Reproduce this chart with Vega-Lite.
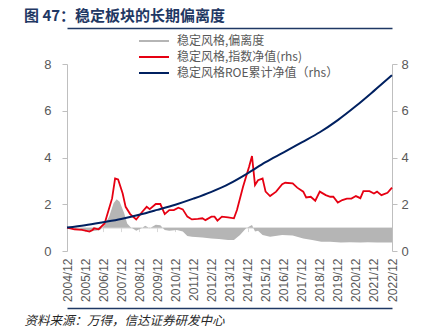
{
  "$schema": "https://vega.github.io/schema/vega-lite/v6.json",
  "width": 325,
  "height": 187,
  "autosize": {"type": "none"},
  "padding": {"left": 67, "top": 64, "right": 44, "bottom": 84},
  "background": "white",
  "title": {"text": "图 47：稳定板块的长期偏离度", "anchor": "start", "frame": "group", "dx": -43, "offset": 4, "font": "Noto Sans CJK SC", "fontSize": 15, "fontWeight": "bold", "color": "#1f3864"},
  "config": {"view": {"stroke": null}, "axis": {"grid": false}},
  "data": {"values": [
    {"date": "2004-12", "value": 1.00, "series": "稳定风格,偏离度"},
    {"date": "2005-08", "value": 0.97, "series": "稳定风格,偏离度"},
    {"date": "2006-03", "value": 0.83, "series": "稳定风格,偏离度"},
    {"date": "2006-07", "value": 0.87, "series": "稳定风格,偏离度"},
    {"date": "2006-10", "value": 0.90, "series": "稳定风格,偏离度"},
    {"date": "2007-01", "value": 1.11, "series": "稳定风格,偏离度"},
    {"date": "2007-04", "value": 1.47, "series": "稳定风格,偏离度"},
    {"date": "2007-07", "value": 2.04, "series": "稳定风格,偏离度"},
    {"date": "2007-09", "value": 2.21, "series": "稳定风格,偏离度"},
    {"date": "2007-11", "value": 2.11, "series": "稳定风格,偏离度"},
    {"date": "2008-02", "value": 1.61, "series": "稳定风格,偏离度"},
    {"date": "2008-04", "value": 1.18, "series": "稳定风格,偏离度"},
    {"date": "2008-06", "value": 1.04, "series": "稳定风格,偏离度"},
    {"date": "2008-10", "value": 0.87, "series": "稳定风格,偏离度"},
    {"date": "2009-02", "value": 1.00, "series": "稳定风格,偏离度"},
    {"date": "2009-04", "value": 1.08, "series": "稳定风格,偏离度"},
    {"date": "2009-07", "value": 0.97, "series": "稳定风格,偏离度"},
    {"date": "2009-11", "value": 1.12, "series": "稳定风格,偏离度"},
    {"date": "2010-02", "value": 1.10, "series": "稳定风格,偏离度"},
    {"date": "2010-05", "value": 0.90, "series": "稳定风格,偏离度"},
    {"date": "2010-08", "value": 0.87, "series": "稳定风格,偏离度"},
    {"date": "2011-01", "value": 0.90, "series": "稳定风格,偏离度"},
    {"date": "2011-05", "value": 0.83, "series": "稳定风格,偏离度"},
    {"date": "2011-08", "value": 0.64, "series": "稳定风格,偏离度"},
    {"date": "2011-11", "value": 0.61, "series": "稳定风格,偏离度"},
    {"date": "2012-06", "value": 0.58, "series": "稳定风格,偏离度"},
    {"date": "2012-12", "value": 0.54, "series": "稳定风格,偏离度"},
    {"date": "2013-05", "value": 0.51, "series": "稳定风格,偏离度"},
    {"date": "2013-11", "value": 0.47, "series": "稳定风格,偏离度"},
    {"date": "2014-03", "value": 0.47, "series": "稳定风格,偏离度"},
    {"date": "2014-07", "value": 0.68, "series": "稳定风格,偏离度"},
    {"date": "2014-11", "value": 0.97, "series": "稳定风格,偏离度"},
    {"date": "2015-03", "value": 1.11, "series": "稳定风格,偏离度"},
    {"date": "2015-05", "value": 0.83, "series": "稳定风格,偏离度"},
    {"date": "2015-07", "value": 0.87, "series": "稳定风格,偏离度"},
    {"date": "2015-10", "value": 0.68, "series": "稳定风格,偏离度"},
    {"date": "2016-03", "value": 0.61, "series": "稳定风格,偏离度"},
    {"date": "2016-11", "value": 0.68, "series": "稳定风格,偏离度"},
    {"date": "2017-06", "value": 0.66, "series": "稳定风格,偏离度"},
    {"date": "2018-01", "value": 0.54, "series": "稳定风格,偏离度"},
    {"date": "2018-07", "value": 0.47, "series": "稳定风格,偏离度"},
    {"date": "2019-01", "value": 0.40, "series": "稳定风格,偏离度"},
    {"date": "2019-07", "value": 0.40, "series": "稳定风格,偏离度"},
    {"date": "2020-02", "value": 0.36, "series": "稳定风格,偏离度"},
    {"date": "2020-08", "value": 0.37, "series": "稳定风格,偏离度"},
    {"date": "2021-03", "value": 0.36, "series": "稳定风格,偏离度"},
    {"date": "2021-08", "value": 0.37, "series": "稳定风格,偏离度"},
    {"date": "2022-02", "value": 0.36, "series": "稳定风格,偏离度"},
    {"date": "2022-12", "value": 0.36, "series": "稳定风格,偏离度"},

    {"date": "2004-12", "value": 1.00, "series": "稳定风格,指数净值(rhs)"},
    {"date": "2005-05", "value": 0.93, "series": "稳定风格,指数净值(rhs)"},
    {"date": "2005-10", "value": 0.90, "series": "稳定风格,指数净值(rhs)"},
    {"date": "2006-03", "value": 0.83, "series": "稳定风格,指数净值(rhs)"},
    {"date": "2006-05", "value": 0.90, "series": "稳定风格,指数净值(rhs)"},
    {"date": "2006-06", "value": 0.97, "series": "稳定风格,指数净值(rhs)"},
    {"date": "2006-09", "value": 0.93, "series": "稳定风格,指数净值(rhs)"},
    {"date": "2007-01", "value": 1.18, "series": "稳定风格,指数净值(rhs)"},
    {"date": "2007-04", "value": 1.82, "series": "稳定风格,指数净值(rhs)"},
    {"date": "2007-06", "value": 2.25, "series": "稳定风格,指数净值(rhs)"},
    {"date": "2007-08", "value": 3.10, "series": "稳定风格,指数净值(rhs)"},
    {"date": "2007-10", "value": 3.06, "series": "稳定风格,指数净值(rhs)"},
    {"date": "2008-01", "value": 2.46, "series": "稳定风格,指数净值(rhs)"},
    {"date": "2008-03", "value": 1.89, "series": "稳定风格,指数净值(rhs)"},
    {"date": "2008-06", "value": 1.58, "series": "稳定风格,指数净值(rhs)"},
    {"date": "2008-10", "value": 1.35, "series": "稳定风格,指数净值(rhs)"},
    {"date": "2009-02", "value": 1.68, "series": "稳定风格,指数净值(rhs)"},
    {"date": "2009-05", "value": 1.89, "series": "稳定风格,指数净值(rhs)"},
    {"date": "2009-07", "value": 1.79, "series": "稳定风格,指数净值(rhs)"},
    {"date": "2009-11", "value": 2.01, "series": "稳定风格,指数净值(rhs)"},
    {"date": "2010-02", "value": 2.01, "series": "稳定风格,指数净值(rhs)"},
    {"date": "2010-05", "value": 1.58, "series": "稳定风格,指数净值(rhs)"},
    {"date": "2010-08", "value": 1.75, "series": "稳定风格,指数净值(rhs)"},
    {"date": "2010-11", "value": 1.75, "series": "稳定风格,指数净值(rhs)"},
    {"date": "2011-02", "value": 1.85, "series": "稳定风格,指数净值(rhs)"},
    {"date": "2011-05", "value": 1.78, "series": "稳定风格,指数净值(rhs)"},
    {"date": "2011-08", "value": 1.47, "series": "稳定风格,指数净值(rhs)"},
    {"date": "2011-11", "value": 1.35, "series": "稳定风格,指数净值(rhs)"},
    {"date": "2012-03", "value": 1.37, "series": "稳定风格,指数净值(rhs)"},
    {"date": "2012-06", "value": 1.40, "series": "稳定风格,指数净值(rhs)"},
    {"date": "2012-08", "value": 1.32, "series": "稳定风格,指数净值(rhs)"},
    {"date": "2012-12", "value": 1.47, "series": "稳定风格,指数净值(rhs)"},
    {"date": "2013-02", "value": 1.47, "series": "稳定风格,指数净值(rhs)"},
    {"date": "2013-04", "value": 1.30, "series": "稳定风格,指数净值(rhs)"},
    {"date": "2013-07", "value": 1.47, "series": "稳定风格,指数净值(rhs)"},
    {"date": "2013-11", "value": 1.44, "series": "稳定风格,指数净值(rhs)"},
    {"date": "2014-03", "value": 1.40, "series": "稳定风格,指数净值(rhs)"},
    {"date": "2014-05", "value": 1.75, "series": "稳定风格,指数净值(rhs)"},
    {"date": "2014-09", "value": 2.75, "series": "稳定风格,指数净值(rhs)"},
    {"date": "2014-11", "value": 3.18, "series": "稳定风格,指数净值(rhs)"},
    {"date": "2015-01", "value": 3.60, "series": "稳定风格,指数净值(rhs)"},
    {"date": "2015-03", "value": 4.06, "series": "稳定风格,指数净值(rhs)"},
    {"date": "2015-05", "value": 2.82, "series": "稳定风格,指数净值(rhs)"},
    {"date": "2015-07", "value": 3.03, "series": "稳定风格,指数净值(rhs)"},
    {"date": "2015-10", "value": 3.10, "series": "稳定风格,指数净值(rhs)"},
    {"date": "2015-12", "value": 2.54, "series": "稳定风格,指数净值(rhs)"},
    {"date": "2016-03", "value": 2.35, "series": "稳定风格,指数净值(rhs)"},
    {"date": "2016-07", "value": 2.54, "series": "稳定风格,指数净值(rhs)"},
    {"date": "2016-11", "value": 2.86, "series": "稳定风格,指数净值(rhs)"},
    {"date": "2017-01", "value": 2.92, "series": "稳定风格,指数净值(rhs)"},
    {"date": "2017-06", "value": 2.89, "series": "稳定风格,指数净值(rhs)"},
    {"date": "2017-09", "value": 2.71, "series": "稳定风格,指数净值(rhs)"},
    {"date": "2018-01", "value": 2.54, "series": "稳定风格,指数净值(rhs)"},
    {"date": "2018-03", "value": 2.29, "series": "稳定风格,指数净值(rhs)"},
    {"date": "2018-06", "value": 2.32, "series": "稳定风格,指数净值(rhs)"},
    {"date": "2018-09", "value": 2.15, "series": "稳定风格,指数净值(rhs)"},
    {"date": "2018-12", "value": 2.54, "series": "稳定风格,指数净值(rhs)"},
    {"date": "2019-04", "value": 2.39, "series": "稳定风格,指数净值(rhs)"},
    {"date": "2019-07", "value": 2.32, "series": "稳定风格,指数净值(rhs)"},
    {"date": "2019-09", "value": 2.32, "series": "稳定风格,指数净值(rhs)"},
    {"date": "2019-12", "value": 2.07, "series": "稳定风格,指数净值(rhs)"},
    {"date": "2020-03", "value": 2.18, "series": "稳定风格,指数净值(rhs)"},
    {"date": "2020-06", "value": 2.24, "series": "稳定风格,指数净值(rhs)"},
    {"date": "2020-09", "value": 2.24, "series": "稳定风格,指数净值(rhs)"},
    {"date": "2020-12", "value": 2.35, "series": "稳定风格,指数净值(rhs)"},
    {"date": "2021-03", "value": 2.26, "series": "稳定风格,指数净值(rhs)"},
    {"date": "2021-05", "value": 2.56, "series": "稳定风格,指数净值(rhs)"},
    {"date": "2021-09", "value": 2.56, "series": "稳定风格,指数净值(rhs)"},
    {"date": "2021-12", "value": 2.46, "series": "稳定风格,指数净值(rhs)"},
    {"date": "2022-02", "value": 2.54, "series": "稳定风格,指数净值(rhs)"},
    {"date": "2022-05", "value": 2.39, "series": "稳定风格,指数净值(rhs)"},
    {"date": "2022-09", "value": 2.49, "series": "稳定风格,指数净值(rhs)"},
    {"date": "2022-12", "value": 2.71, "series": "稳定风格,指数净值(rhs)"},

    {"date": "2004-12", "value": 1.00, "series": "稳定风格ROE累计净值（rhs）"},
    {"date": "2005-12", "value": 1.10, "series": "稳定风格ROE累计净值（rhs）"},
    {"date": "2006-12", "value": 1.23, "series": "稳定风格ROE累计净值（rhs）"},
    {"date": "2007-12", "value": 1.37, "series": "稳定风格ROE累计净值（rhs）"},
    {"date": "2008-12", "value": 1.55, "series": "稳定风格ROE累计净值（rhs）"},
    {"date": "2009-12", "value": 1.76, "series": "稳定风格ROE累计净值（rhs）"},
    {"date": "2010-12", "value": 1.98, "series": "稳定风格ROE累计净值（rhs）"},
    {"date": "2011-12", "value": 2.24, "series": "稳定风格ROE累计净值（rhs）"},
    {"date": "2012-12", "value": 2.53, "series": "稳定风格ROE累计净值（rhs）"},
    {"date": "2013-12", "value": 2.88, "series": "稳定风格ROE累计净值（rhs）"},
    {"date": "2014-12", "value": 3.32, "series": "稳定风格ROE累计净值（rhs）"},
    {"date": "2015-12", "value": 3.80, "series": "稳定风格ROE累计净值（rhs）"},
    {"date": "2016-12", "value": 4.22, "series": "稳定风格ROE累计净值（rhs）"},
    {"date": "2017-12", "value": 4.65, "series": "稳定风格ROE累计净值（rhs）"},
    {"date": "2018-12", "value": 5.08, "series": "稳定风格ROE累计净值（rhs）"},
    {"date": "2019-12", "value": 5.60, "series": "稳定风格ROE累计净值（rhs）"},
    {"date": "2020-12", "value": 6.20, "series": "稳定风格ROE累计净值（rhs）"},
    {"date": "2021-12", "value": 6.85, "series": "稳定风格ROE累计净值（rhs）"},
    {"date": "2022-12", "value": 7.52, "series": "稳定风格ROE累计净值（rhs）"}
  ]},
  "layer": [
    {
      "transform": [{"filter": "datum.series === '稳定风格,偏离度'"}],
      "mark": {"type": "area", "opacity": 1},
      "encoding": {
        "x": {"field": "date", "type": "temporal",
          "scale": {"type": "utc", "domain": [{"year": 2004, "month": 12, "date": 1, "utc": true}, {"year": 2022, "month": 12, "date": 1, "utc": true}]},
          "axis": {"orient": "bottom", "title": null, "domain": false, "ticks": false, "labelAngle": 270, "labelAlign": "right", "labelBaseline": "middle", "labelPadding": 7, "labelFont": "Liberation Sans", "labelFontSize": 12, "labelColor": "#595959", "labelExpr": "utcFormat(datum.value, '%Y/%m')", "labelOverlap": false, "labelFlush": false,
            "values": [{"year": 2004, "month": 12, "date": 1, "utc": true}, {"year": 2005, "month": 12, "date": 1, "utc": true}, {"year": 2006, "month": 12, "date": 1, "utc": true}, {"year": 2007, "month": 12, "date": 1, "utc": true}, {"year": 2008, "month": 12, "date": 1, "utc": true}, {"year": 2009, "month": 12, "date": 1, "utc": true}, {"year": 2010, "month": 12, "date": 1, "utc": true}, {"year": 2011, "month": 12, "date": 1, "utc": true}, {"year": 2012, "month": 12, "date": 1, "utc": true}, {"year": 2013, "month": 12, "date": 1, "utc": true}, {"year": 2014, "month": 12, "date": 1, "utc": true}, {"year": 2015, "month": 12, "date": 1, "utc": true}, {"year": 2016, "month": 12, "date": 1, "utc": true}, {"year": 2017, "month": 12, "date": 1, "utc": true}, {"year": 2018, "month": 12, "date": 1, "utc": true}, {"year": 2019, "month": 12, "date": 1, "utc": true}, {"year": 2020, "month": 12, "date": 1, "utc": true}, {"year": 2021, "month": 12, "date": 1, "utc": true}, {"year": 2022, "month": 12, "date": 1, "utc": true}]}},
        "y": {"field": "value", "type": "quantitative", "scale": {"domain": [0, 8], "nice": false},
          "axis": {"orient": "left", "title": null, "values": [0, 2, 4, 6, 8], "domainColor": "#bfbfbf", "tickColor": "#bfbfbf", "tickSize": 5, "labelPadding": 11, "labelFont": "Liberation Sans", "labelFontSize": 13, "labelColor": "#595959"}},
        "y2": {"datum": 1},
        "color": {"field": "series", "type": "nominal",
          "scale": {"domain": ["稳定风格,偏离度", "稳定风格,指数净值(rhs)", "稳定风格ROE累计净值（rhs）"], "range": ["#b5b5b5", "#e60012", "#002060"]},
          "legend": {"orient": "none", "legendX": 81, "legendY": -29, "title": null, "padding": 0, "symbolType": "M-5,0H5", "symbolSize": 36, "symbolStrokeWidth": 2, "rowPadding": 4, "labelFont": "Noto Sans CJK SC", "labelFontSize": 12, "labelColor": "#595959", "labelOffset": 17, "labelLimit": 400,
            "encode": {"symbols": {"update": {"stroke": {"signal": "scale('color', datum.value)"}, "strokeWidth": {"signal": "datum.value === '稳定风格,偏离度' ? 6 : 2"}, "fill": {"value": "transparent"}}}}}}
      }
    },
    {
      "transform": [{"filter": "datum.series === '稳定风格,指数净值(rhs)'"}],
      "mark": {"type": "line", "strokeWidth": 1.8},
      "encoding": {
        "x": {"field": "date", "type": "temporal", "axis": {"orient": "top", "offset": 36, "title": null, "labels": false, "ticks": false, "domainColor": "#1f3864", "domainWidth": 1.5}},
        "y": {"field": "value", "type": "quantitative",
          "axis": {"orient": "right", "title": null, "values": [0, 2, 4, 6, 8], "domainColor": "#bfbfbf", "tickColor": "#bfbfbf", "tickSize": 5, "labelPadding": 4, "labelFont": "Liberation Sans", "labelFontSize": 13, "labelColor": "#595959"}},
        "color": {"field": "series", "type": "nominal"}
      }
    },
    {
      "transform": [{"filter": "datum.series === '稳定风格ROE累计净值（rhs）'"}],
      "mark": {"type": "line", "strokeWidth": 2, "interpolate": "monotone"},
      "encoding": {
        "x": {"field": "date", "type": "temporal", "axis": {"orient": "bottom", "offset": 57, "labels": false, "ticks": false, "domainColor": "#1f3864", "domainWidth": 1.5,
          "title": "资料来源：万得，信达证券研发中心", "titleAnchor": "start", "titleAlign": "left", "titleX": -43, "titleY": 12, "titleBaseline": "middle", "titleFont": "Noto Sans CJK SC", "titleFontSize": 12.5, "titleFontWeight": "normal", "titleFontStyle": "italic", "titleColor": "#262626"}},
        "y": {"field": "value", "type": "quantitative", "axis": null},
        "color": {"field": "series", "type": "nominal"}
      }
    },
    {
      "transform": [{"filter": "datum.series === '稳定风格,偏离度'"}],
      "mark": {"type": "area", "opacity": 0},
      "encoding": {
        "x": {"field": "date", "type": "temporal", "axis": {"orient": "bottom", "offset": -23.4, "title": null, "labels": false, "domainColor": "#d9d9d9", "tickColor": "#d9d9d9", "tickSize": 4,
          "values": [{"year": 2004, "month": 12, "date": 1, "utc": true}, {"year": 2005, "month": 12, "date": 1, "utc": true}, {"year": 2006, "month": 12, "date": 1, "utc": true}, {"year": 2007, "month": 12, "date": 1, "utc": true}, {"year": 2008, "month": 12, "date": 1, "utc": true}, {"year": 2009, "month": 12, "date": 1, "utc": true}, {"year": 2010, "month": 12, "date": 1, "utc": true}, {"year": 2011, "month": 12, "date": 1, "utc": true}, {"year": 2012, "month": 12, "date": 1, "utc": true}, {"year": 2013, "month": 12, "date": 1, "utc": true}, {"year": 2014, "month": 12, "date": 1, "utc": true}, {"year": 2015, "month": 12, "date": 1, "utc": true}, {"year": 2016, "month": 12, "date": 1, "utc": true}, {"year": 2017, "month": 12, "date": 1, "utc": true}, {"year": 2018, "month": 12, "date": 1, "utc": true}, {"year": 2019, "month": 12, "date": 1, "utc": true}, {"year": 2020, "month": 12, "date": 1, "utc": true}, {"year": 2021, "month": 12, "date": 1, "utc": true}, {"year": 2022, "month": 12, "date": 1, "utc": true}]}},
        "y": {"field": "value", "type": "quantitative", "axis": null}
      }
    }
  ],
  "resolve": {"axis": {"x": "independent", "y": "independent"}}
}
